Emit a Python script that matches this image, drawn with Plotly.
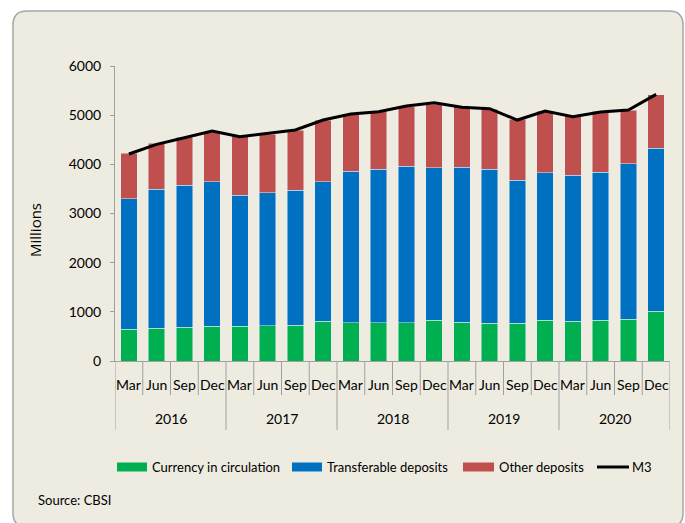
import plotly.graph_objects as go

years = ["2016", "2017", "2018", "2019", "2020"]
quarters = ["Mar", "Jun", "Sep", "Dec"]
categories = [f"{q} {y}" for y in years for q in quarters]

currency = [645, 665, 691, 705, 705, 712, 732, 813, 773, 780,
            780, 827, 793, 766, 766, 827, 813, 834, 854, 1017]
transferable = [2656, 2827, 2882, 2942, 2664, 2711, 2739, 2834, 3084, 3118,
                3186, 3105, 3146, 3132, 2915, 3003, 2963, 3010, 3159, 3308]
other = [923, 935, 976, 1010, 1200, 1194, 1227, 1254, 1159, 1186,
         1207, 1288, 1234, 1227, 1234, 1254, 1213, 1233, 1092, 1091]
m3 = [4210, 4407, 4542, 4678, 4563, 4631, 4698, 4901, 5023, 5071,
      5186, 5254, 5160, 5132, 4901, 5084, 4969, 5064, 5105, 5423]

GREEN, BLUE, RED = "#00B050", "#0070C0", "#C0504D"
AX = "#A0A0A0"
FONT = "Lato"

W, H = 685, 523
L, R, T, B = 115, 670, 66, 361  # plot area pixels


def px(x):
    return (x - L) / (R - L)


def py(y):
    return (B - y) / (B - T)


fig = go.Figure()
fig.add_bar(x=categories, y=currency, marker_color=GREEN, name="Currency in circulation")
fig.add_bar(x=categories, y=transferable, marker_color=BLUE, name="Transferable deposits")
fig.add_bar(x=categories, y=other, marker_color=RED, name="Other deposits")
fig.add_scatter(x=categories, y=m3, mode="lines", line=dict(color="black", width=3), name="M3")

shapes = []
annotations = []

# rounded background box
x0, y0, x1, y1, r = 13, 11, 683, 527, 14
path = (f"M {px(x0)},{py(y0 + r)} Q {px(x0)},{py(y0)} {px(x0 + r)},{py(y0)} "
        f"L {px(x1 - r)},{py(y0)} Q {px(x1)},{py(y0)} {px(x1)},{py(y0 + r)} "
        f"L {px(x1)},{py(y1 - r)} Q {px(x1)},{py(y1)} {px(x1 - r)},{py(y1)} "
        f"L {px(x0 + r)},{py(y1)} Q {px(x0)},{py(y1)} {px(x0)},{py(y1 - r)} Z")
shapes.append(dict(type="path", xref="paper", yref="paper", path=path,
                   fillcolor="#EEECE1", line=dict(color="#A6A6A6", width=1.5), layer="below"))

# category separators
n = len(categories)
for i in range(n + 1):
    bottom = 430 if i % 4 == 0 else 395
    shapes.append(dict(type="line", xref="x", yref="paper", x0=i - 0.5, x1=i - 0.5,
                       y0=py(361), y1=py(bottom), line=dict(color=AX, width=1)))

for i, c in enumerate(categories):
    annotations.append(dict(x=c, y=py(384), xref="x", yref="paper", text=c.split()[0],
                            showarrow=False, font=dict(family=FONT, size=14, color="black"),
                            yanchor="middle"))
for k, yv in enumerate(years):
    annotations.append(dict(x=4 * k + 1.5, y=py(418), xref="x", yref="paper", text=yv,
                            showarrow=False, font=dict(family=FONT, size=14, color="black"),
                            yanchor="middle"))

# manual legend
leg_y = 467
items = [(117, 147, GREEN, "Currency in circulation"),
         (292, 322, BLUE, "Transferable deposits"),
         (463, 494, RED, "Other deposits")]
for a, b, col, txt in items:
    shapes.append(dict(type="rect", xref="paper", yref="paper", x0=px(a), x1=px(b),
                       y0=py(leg_y - 4.5), y1=py(leg_y + 4.5), fillcolor=col, line=dict(width=0)))
    annotations.append(dict(x=px(b + 3), y=py(leg_y), xref="paper", yref="paper", text=txt,
                            showarrow=False, xanchor="left", yanchor="middle",
                            font=dict(family=FONT, size=13, color="black")))
shapes.append(dict(type="line", xref="paper", yref="paper", x0=px(597), x1=px(629),
                   y0=py(leg_y), y1=py(leg_y), line=dict(color="black", width=3)))
annotations.append(dict(x=px(630), y=py(leg_y), xref="paper", yref="paper", text="M3",
                        showarrow=False, xanchor="left", yanchor="middle",
                        font=dict(family=FONT, size=13, color="black")))

annotations.append(dict(x=px(36), y=py(500), xref="paper", yref="paper", text="Source: CBSI",
                        showarrow=False, xanchor="left", yanchor="middle",
                        font=dict(family=FONT, size=13, color="black")))
annotations.append(dict(x=px(35), y=py(230), xref="paper", yref="paper", text="Millions",
                        showarrow=False, textangle=-90, xanchor="center", yanchor="middle",
                        font=dict(family="Open Sans", size=15, color="black")))

fig.update_layout(
    width=W, height=H,
    margin=dict(l=L, r=W - R, t=T, b=H - B, pad=0),
    barmode="stack", bargap=0.4,
    paper_bgcolor="white", plot_bgcolor="rgba(0,0,0,0)",
    showlegend=False,
    shapes=shapes, annotations=annotations,
    font=dict(family=FONT, size=13, color="black"),
)
fig.update_xaxes(type="category", range=[-0.5, n - 0.5], showticklabels=False,
                 showline=True, linecolor=AX, linewidth=1, ticks="", showgrid=False,
                 zeroline=False, fixedrange=True)
fig.update_yaxes(range=[0, 6000], tickvals=[0, 1000, 2000, 3000, 4000, 5000, 6000],
                 showline=True, linecolor=AX, linewidth=1, ticks="outside", ticklen=4,
                 tickcolor=AX, showgrid=False, zeroline=False, ticklabelstandoff=6,
                 tickfont=dict(family=FONT, size=14, color="black"), fixedrange=True)

fig.write_html("out.html", config={"displayModeBar": False},
               post_script="document.body.style.margin='0';document.body.style.overflow='hidden';")
